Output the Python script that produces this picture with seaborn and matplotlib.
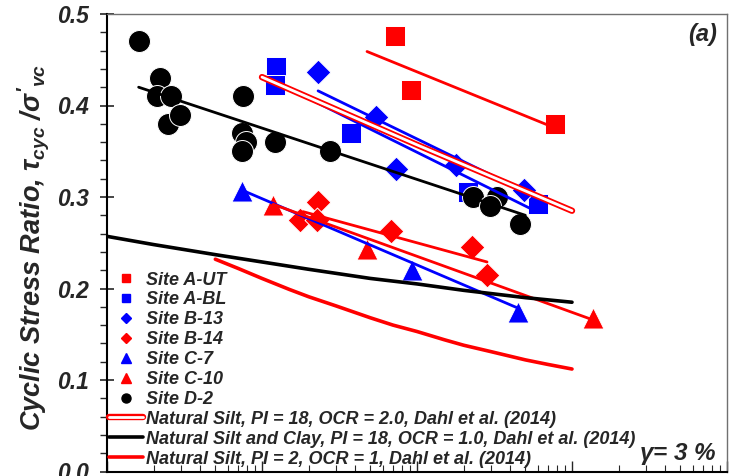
import matplotlib
matplotlib.use("Agg")
import matplotlib.pyplot as plt
import seaborn as sns
from matplotlib.lines import Line2D
from matplotlib.legend_handler import HandlerTuple
from matplotlib.ticker import LogLocator, MultipleLocator, NullFormatter, FormatStrFormatter

# ---- measured points: number of cycles N vs cyclic stress ratio ----
a_ut_n = [72, 92, 777]
a_ut_csr = [0.476, 0.417, 0.380]
a_bl_n = [12.3, 12.1, 37.5, 213, 604]
a_bl_csr = [0.442, 0.422, 0.370, 0.305, 0.292]
b13_n = [23, 54, 73, 179, 490]
b13_csr = [0.437, 0.387, 0.331, 0.335, 0.308]
b14_n = [23, 17.6, 22.6, 68, 226, 283]
b14_csr = [0.295, 0.275, 0.275, 0.263, 0.245, 0.215]
c7_n = [7.43, 92.9, 448]
c7_csr = [0.307, 0.220, 0.174]
c10_n = [11.8, 47.6, 1366]
c10_csr = [0.291, 0.243, 0.168]
d2_n = [1.61, 2.20, 2.10, 2.59, 2.47, 2.96, 7.54, 7.43, 7.87, 7.43, 12.1, 27.5,
        230, 328, 296, 462]
d2_csr = [0.47, 0.43, 0.41, 0.41, 0.38, 0.39, 0.41, 0.37, 0.36, 0.35, 0.36, 0.35,
          0.30, 0.30, 0.29, 0.27]

# ---- per-site trend lines (end points) ----
a_ut_fit_n, a_ut_fit_csr = [47.6, 690], [0.459, 0.379]
a_bl_fit_n, a_bl_fit_csr = [13.5, 560], [0.422, 0.286]
b13_fit_n, b13_fit_csr = [23, 513], [0.416, 0.305]
b14_fit_n, b14_fit_csr = [18.4, 283], [0.284, 0.229]
c7_fit_n, c7_fit_csr = [7.8, 442], [0.306, 0.179]
c10_fit_n, c10_fit_csr = [11.8, 1300], [0.292, 0.167]
d2_fit_n, d2_fit_csr = [1.6, 500], [0.42, 0.28]

# ---- Dahl et al. (2014) reference curves ----
dahl_ocr2_n = [10, 100, 1000]
dahl_ocr2_csr = [0.431, 0.357, 0.285]
dahl_clay_n = [1, 2, 5, 10, 20, 50, 100, 200, 500, 1000]
dahl_clay_csr = [0.257, 0.248, 0.237, 0.229, 0.221, 0.211, 0.205, 0.198, 0.190, 0.185]
dahl_pi2_n = [5, 7, 10, 15, 20, 30, 50, 70, 100, 150, 200, 300, 500, 700, 1000]
dahl_pi2_csr = [0.232, 0.222, 0.211, 0.199, 0.191, 0.181, 0.168, 0.160, 0.153,
                0.144, 0.138, 0.131, 0.122, 0.117, 0.112]

RED = "#FF0000"
BLUE = "#0000FF"
BLACK = "#000000"

sns.set_style("ticks")
plt.rcParams["font.family"] = ["Liberation Sans", "DejaVu Sans"]
plt.rcParams["font.weight"] = "bold"
plt.rcParams["font.style"] = "italic"
plt.rcParams["axes.labelweight"] = "bold"
plt.rcParams["mathtext.fontset"] = "custom"
plt.rcParams["mathtext.it"] = "Liberation Sans:bold:italic"
plt.rcParams["mathtext.rm"] = "Liberation Sans:bold:italic"
plt.rcParams["mathtext.bf"] = "Liberation Sans:bold:italic"

fig = plt.figure(figsize=(7.36, 4.76), dpi=100)
ax = fig.add_axes([107 / 736, 4.5 / 476, 620 / 736, 457.5 / 476])

sites = [
    (a_ut_n, a_ut_csr, "s", RED, 190),
    (a_bl_n, a_bl_csr, "s", BLUE, 190),
    (b13_n, b13_csr, "D", BLUE, 160),
    (b14_n, b14_csr, "D", RED, 160),
    (c7_n, c7_csr, "^", BLUE, 230),
    (c10_n, c10_csr, "^", RED, 230),
    (d2_n, d2_csr, "o", BLACK, 250),
]
for n, csr, mk, col, size in sites:
    sns.scatterplot(x=n, y=csr, marker=mk, s=size, color=col, edgecolor="white",
                    linewidth=0.7, ax=ax, zorder=3, legend=False)

fits = [
    (a_ut_fit_n, a_ut_fit_csr, RED),
    (a_bl_fit_n, a_bl_fit_csr, BLUE),
    (b13_fit_n, b13_fit_csr, BLUE),
    (b14_fit_n, b14_fit_csr, RED),
    (c7_fit_n, c7_fit_csr, BLUE),
    (c10_fit_n, c10_fit_csr, RED),
    (d2_fit_n, d2_fit_csr, BLACK),
]
for n, csr, col in fits:
    sns.lineplot(x=n, y=csr, color=col, linewidth=2.0, ax=ax, zorder=4,
                 estimator=None, sort=False)

# hollow red band: thick red stroke with a white core
sns.lineplot(x=dahl_ocr2_n, y=dahl_ocr2_csr, color=RED, linewidth=4.6, ax=ax,
             zorder=4, estimator=None, sort=False, solid_capstyle="round")
sns.lineplot(x=dahl_ocr2_n, y=dahl_ocr2_csr, color="white", linewidth=2.0, ax=ax,
             zorder=4.1, estimator=None, sort=False, solid_capstyle="round")
sns.lineplot(x=dahl_clay_n, y=dahl_clay_csr, color=BLACK, linewidth=2.6, ax=ax,
             zorder=4, estimator=None, sort=False)
sns.lineplot(x=dahl_pi2_n, y=dahl_pi2_csr, color=RED, linewidth=2.6, ax=ax,
             zorder=4, estimator=None, sort=False)

ax.set_xscale("log")
ax.set_xlim(1, 10000)
ax.set_ylim(0, 0.5)
ax.xaxis.set_major_locator(LogLocator(base=10))
ax.xaxis.set_minor_locator(LogLocator(base=10, subs=range(2, 10)))
ax.xaxis.set_minor_formatter(NullFormatter())
ax.yaxis.set_major_locator(MultipleLocator(0.1))
ax.yaxis.set_minor_locator(MultipleLocator(0.02))
ax.yaxis.set_major_formatter(FormatStrFormatter("%.1f"))

ax.tick_params(axis="y", which="major", direction="inout", length=9.5, width=1.2,
               pad=8, labelsize=16.5)
ax.tick_params(axis="y", which="minor", direction="out", length=5, width=1.0)
ax.tick_params(axis="x", which="major", direction="in", length=8, width=1.0,
               labelbottom=False)
ax.tick_params(axis="x", which="minor", direction="in", length=5, width=0.8)

for side in ("left", "bottom"):
    ax.spines[side].set_color("black")
    ax.spines[side].set_linewidth(1.5)
for side in ("top", "right"):
    ax.spines[side].set_color("#707070")
    ax.spines[side].set_linewidth(1.0)

ax.set_xlabel("")
ax.set_ylabel(r"Cyclic Stress Ratio, $\tau_{cyc}$ /$\sigma'_{vc}$", fontsize=19.5,
              fontweight="bold")
ax.yaxis.set_label_coords(-0.088, 0.49)

fig.text(703 / 736, 1 - 34 / 476, "(a)", fontsize=17, ha="center", va="center")
fig.text(678 / 736, 1 - 454 / 476, r"$\gamma$= 3 %", fontsize=17.5, ha="center",
         va="center")

handles = [
    Line2D([], [], ls="none", marker="s", color=RED, markersize=6),
    Line2D([], [], ls="none", marker="s", color=BLUE, markersize=6),
    Line2D([], [], ls="none", marker="D", color=BLUE, markersize=4.6),
    Line2D([], [], ls="none", marker="D", color=RED, markersize=4.6),
    Line2D([], [], ls="none", marker="^", color=BLUE, markersize=7.5),
    Line2D([], [], ls="none", marker="^", color=RED, markersize=7.5),
    Line2D([], [], ls="none", marker="o", color=BLACK, markersize=6.5),
    (Line2D([], [], color=RED, lw=4.6, solid_capstyle="round"),
     Line2D([], [], color="white", lw=2.0, solid_capstyle="round")),
    Line2D([], [], color=BLACK, lw=2.6),
    Line2D([], [], color=RED, lw=2.6),
]
labels = [
    "Site A-UT", "Site A-BL", "Site B-13", "Site B-14", "Site C-7", "Site C-10",
    "Site D-2",
    "Natural Silt, PI = 18, OCR = 2.0, Dahl et al. (2014)",
    "Natural Silt and Clay, PI = 18, OCR = 1.0, Dahl et al. (2014)",
    "Natural Silt, PI = 2, OCR = 1, Dahl et al. (2014)",
]
ax.legend(handles, labels, loc="upper left", bbox_to_anchor=(0.003, 0.437),
          frameon=False, fontsize=13, labelspacing=0.16, handlelength=1.9,
          handletextpad=0.15, borderpad=0, borderaxespad=0,
          handler_map={tuple: HandlerTuple(ndivide=1, pad=0)})

fig.savefig("out.png", dpi=100)
